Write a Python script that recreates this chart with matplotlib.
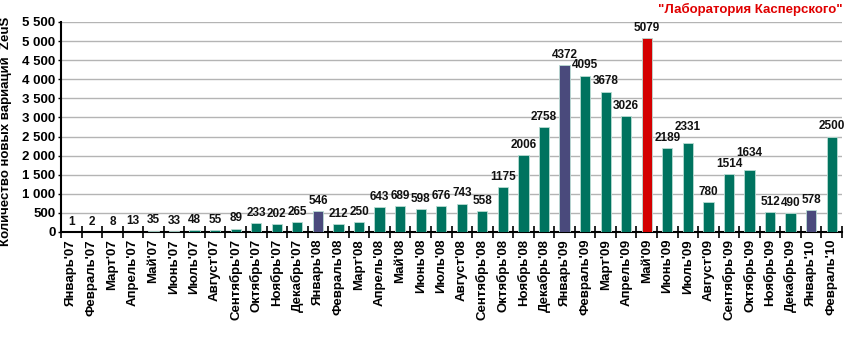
import matplotlib
matplotlib.use("Agg")
import matplotlib.pyplot as plt
from matplotlib.ticker import FixedLocator, FuncFormatter

months = ["Январь", "Февраль", "Март", "Апрель", "Май", "Июнь", "Июль",
          "Август", "Сентябрь", "Октябрь", "Ноябрь", "Декабрь"]
categories = ([m + "'07" for m in months] + [m + "'08" for m in months] +
              [m + "'09" for m in months] + ["Январь'10", "Февраль'10"])
values = [1, 2, 8, 13, 35, 33, 48, 55, 89, 233, 202, 265,
          546, 212, 250, 643, 689, 598, 676, 743, 558, 1175, 2006, 2758,
          4372, 4095, 3678, 3026, 5079, 2189, 2331, 780, 1514, 1634, 512, 490,
          578, 2500]
january_labels = ["Январь'08", "Январь'09", "Январь'10"]
peak_label = "Май'09"

GREEN = "#00735F"
BLUE = "#4A4A7C"
RED = "#D40000"

plt.rcParams['font.family'] = ['Liberation Sans', 'DejaVu Sans']
plt.rcParams['font.weight'] = 'bold'

fig = plt.figure(figsize=(8.5, 3.5), dpi=100)
ax = fig.add_axes([61/850, 1-232/350, (842-61)/850, (232-22)/350])

colors = []
for c in categories:
    if c == peak_label:
        colors.append(RED)
    elif c in january_labels:
        colors.append(BLUE)
    else:
        colors.append(GREEN)

x = list(range(len(categories)))
ax.bar(x, values, width=0.5, color=colors, edgecolor="#b9dcd3",
       linewidth=0.6, zorder=3)

ax.set_xlim(-0.5, len(categories) - 0.5)
ax.set_ylim(0, 5500)

# bar value labels, lifting one when it sits almost level with its left neighbour
fig.canvas.draw()
renderer = fig.canvas.get_renderer()
prev = None
for xi, v in zip(x, values):
    t = ax.annotate(str(v), (xi, v), xytext=(0, 3), textcoords="offset points",
                    ha="center", va="bottom", fontsize=8.5, fontweight="bold",
                    color="#111111", zorder=4)
    bb = t.get_window_extent(renderer)
    if prev is not None:
        pb = prev.get_window_extent(renderer)
        if bb.x0 < pb.x1 - 1 and abs(bb.y0 - pb.y0) < 8:
            lift_px = (pb.y0 + 11) - bb.y0
            t.set_position((0, 3 + lift_px * 72 / fig.dpi))
    prev = t

ax.set_yticks(range(0, 5501, 500))
ax.yaxis.set_major_formatter(FuncFormatter(lambda v, p: f"{int(v):,}".replace(",", " ")))
ax.yaxis.grid(True, color="#b4b4b4", linewidth=1, zorder=0)
ax.set_axisbelow(True)

ax.set_xticks(x)
ax.set_xticklabels(categories, rotation=90, fontsize=9.5, fontweight="bold")
ax.tick_params(axis="x", which="major", length=0, pad=5)
ax.xaxis.set_minor_locator(FixedLocator([i - 0.5 for i in range(len(categories) + 1)]))
ax.tick_params(axis="x", which="minor", direction="inout", length=8, width=1.2, color="black")
ax.tick_params(axis="y", labelsize=9.5, length=2, width=1, pad=2)
for lab in ax.get_yticklabels():
    lab.set_fontweight("bold")

for s in ["top", "right"]:
    ax.spines[s].set_visible(False)
ax.spines["left"].set_linewidth(1.5)
ax.spines["bottom"].set_linewidth(1.5)

ax.set_ylabel("Количество новых вариаций  ZeuS", fontsize=9.5, fontweight="bold")
ax.yaxis.set_label_coords(-0.063, 0.48)

fig.text(843/850, 1-9/350, "\"Лаборатория Касперского\"", color="#E00000",
         fontsize=9.5, fontweight="bold", ha="right", va="center")

fig.savefig("out.png", dpi=100)
